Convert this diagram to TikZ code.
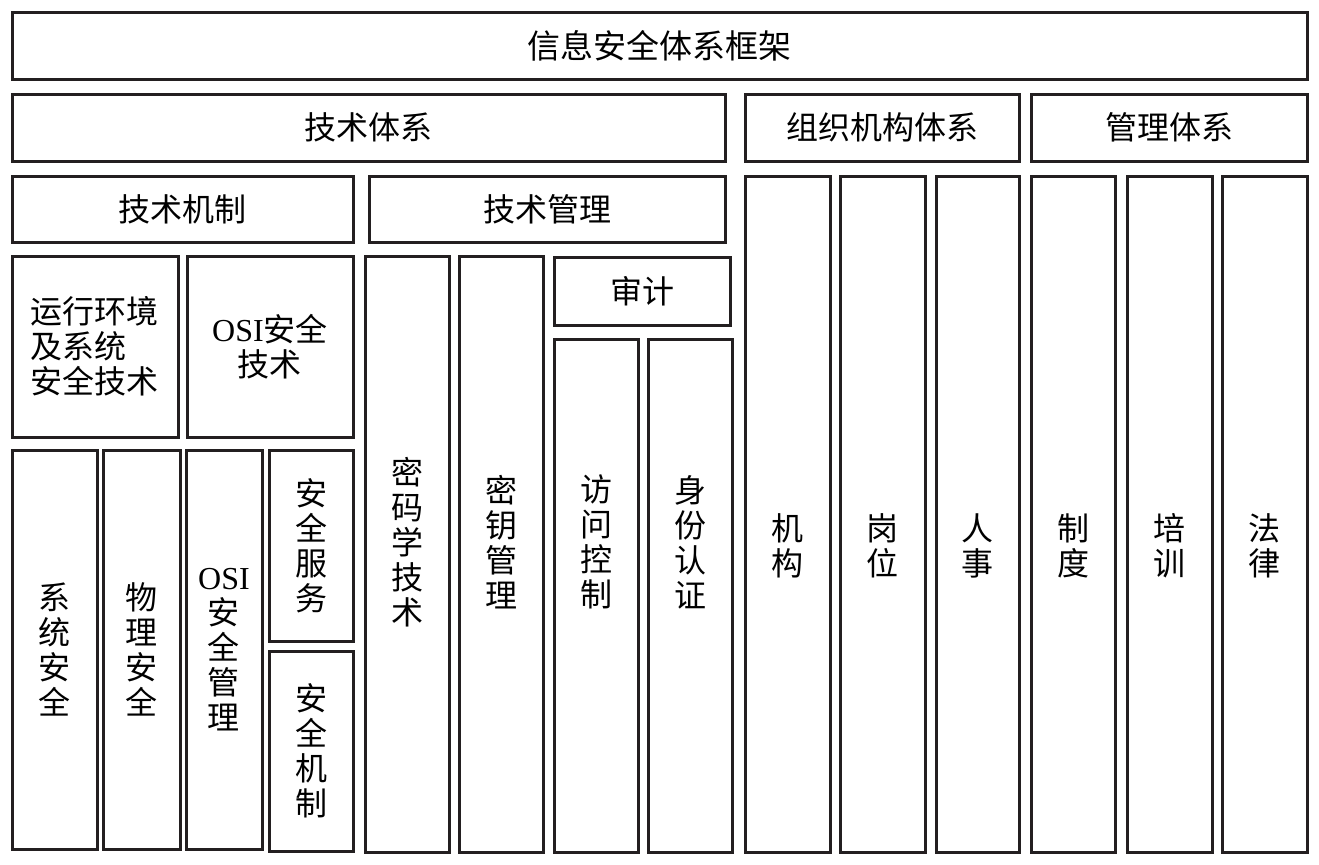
\documentclass[tikz,border=0pt]{standalone}
\usepackage{fontspec}
\setmainfont{Liberation Serif}
\newfontfamily\cjk{Noto Sans CJK SC}
\usepackage{tikz}
\usetikzlibrary{fit}
\definecolor{framegray}{RGB}{35,31,32}
\tikzset{
  blk/.style={
    rectangle, draw=framegray, line width=1.5pt,
    inner sep=0pt
  },
  btxt/.style={
    inner sep=0pt, align=center,
    font=\cjk\fontsize{16}{17.5}\selectfont
  }
}

\begin{document}
\begin{tikzpicture}[x=0.5pt, y=-0.5pt]
  \useasboundingbox (0,0) rectangle (1319,864);

  % --- 顶层 ---
  \node[blk, fit={(12,12) (1307,79)}] (kuangjia) {};
  \node[btxt, font=\cjk\fontsize{16.5}{18}\selectfont] (kuangjia-t) at (kuangjia) {信息安全体系框架};

  % --- 三大体系 ---
  \node[blk, fit={(12,94) (725,161)}] (jishu) {};
  \node[blk, fit={(745,94) (1019,161)}] (zuzhi) {};
  \node[blk, fit={(1031,94) (1307,161)}] (guanli) {};
  \node[btxt] (jishu-t) at (jishu) {技术体系};
  \node[btxt] (zuzhi-t) at (zuzhi) {组织机构体系};
  \node[btxt] (guanli-t) at (guanli) {管理体系};

  % --- 技术体系 ---
  \node[blk, fit={(12,176) (353,242)}] (jizhi) {};
  \node[blk, fit={(369,176) (725,242)}] (jsgl) {};
  \node[btxt] (jizhi-t) at (jizhi) {技术机制};
  \node[btxt] (jsgl-t) at (jsgl) {技术管理};

  \node[blk, fit={(12,256) (178,437)}] (yxhj) {};
  \node[blk, fit={(187,256) (353,437)}] (osijs) {};
  \node[btxt, align=left] (yxhj-t) at (yxhj) {运行环境\\及系统\\安全技术};
  \node[btxt] (osijs-t) at (osijs) {{\rmfamily OSI}安全\\技术};

  \node[blk, fit={(12,450) (97,849)}] (xtaq) {};
  \node[blk, fit={(103,450) (180,849)}] (wlaq) {};
  \node[blk, fit={(186,450) (262,849)}] (osigl) {};
  \node[blk, fit={(269,450) (353,641)}] (aqfw) {};
  \node[blk, fit={(269,651) (353,851)}] (aqjz) {};
  \node[btxt] (xtaq-t) at (xtaq) {系\\统\\安\\全};
  \node[btxt] (wlaq-t) at (wlaq) {物\\理\\安\\全};
  \node[btxt] (osigl-t) at (osigl) {{\rmfamily OSI}\\安\\全\\管\\理};
  \node[btxt] (aqfw-t) at (aqfw) {安\\全\\服\\务};
  \node[btxt] (aqjz-t) at (aqjz) {安\\全\\机\\制};

  \node[blk, fit={(554,257) (730,325)}] (shenji) {};
  \node[btxt] (shenji-t) at (shenji) {审计};

  % --- 竖列（文字对齐同一高度）---
  \coordinate (midline) at (0,542);
  \coordinate (rightline) at (0,546);

  \node[blk, fit={(365,256) (449,852)}] (mima) {};
  \node[blk, fit={(459,256) (543,852)}] (miyao) {};
  \node[blk, fit={(554,339) (638,852)}] (fangwen) {};
  \node[blk, fit={(648,339) (732,852)}] (renzheng) {};
  \node[btxt] (mima-t) at (mima |- midline) {密\\码\\学\\技\\术};
  \node[btxt] (miyao-t) at (miyao |- midline) {密\\钥\\管\\理};
  \node[btxt] (fangwen-t) at (fangwen |- midline) {访\\问\\控\\制};
  \node[btxt] (renzheng-t) at (renzheng |- midline) {身\\份\\认\\证};

  % --- 组织机构 / 管理 ---
  \node[blk, fit={(745,176) (830,852)}] (jigou) {};
  \node[blk, fit={(840,176) (925,852)}] (gangwei) {};
  \node[blk, fit={(936,176) (1019,852)}] (renshi) {};
  \node[blk, fit={(1031,176) (1115,852)}] (zhidu) {};
  \node[blk, fit={(1127,176) (1212,852)}] (peixun) {};
  \node[blk, fit={(1222,176) (1307,852)}] (falv) {};
  \node[btxt] (jigou-t) at (jigou |- rightline) {机\\构};
  \node[btxt] (gangwei-t) at (gangwei |- rightline) {岗\\位};
  \node[btxt] (renshi-t) at (renshi |- rightline) {人\\事};
  \node[btxt] (zhidu-t) at (zhidu |- rightline) {制\\度};
  \node[btxt] (peixun-t) at (peixun |- rightline) {培\\训};
  \node[btxt] (falv-t) at (falv |- rightline) {法\\律};

\end{tikzpicture}
\end{document}
